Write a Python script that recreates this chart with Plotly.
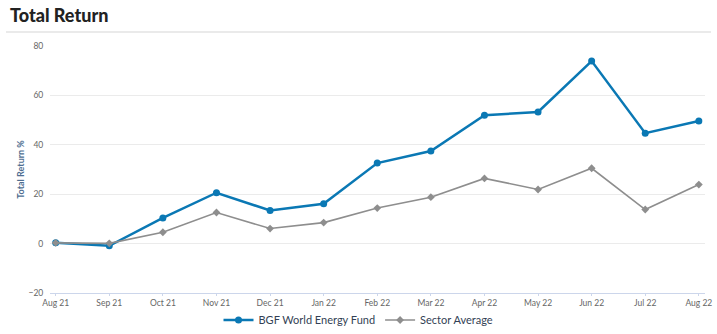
import plotly.graph_objects as go

months = ["Aug 21", "Sep 21", "Oct 21", "Nov 21", "Dec 21", "Jan 22", "Feb 22",
          "Mar 22", "Apr 22", "May 22", "Jun 22", "Jul 22", "Aug 22"]
fund = [0.3, -0.9, 10.4, 20.6, 13.4, 16.1, 32.6, 37.5, 52.0, 53.3, 73.9, 44.7, 49.6]
sector = [0.3, 0.1, 4.6, 12.6, 6.1, 8.5, 14.4, 18.8, 26.4, 21.9, 30.5, 13.8, 23.9]
y_ticks = [-20, 0, 20, 40, 60, 80]

FONT = "Lato"
W, H = 717, 334
L, R, T, B = 50, 12, 46, 41

fig = go.Figure()
fig.add_trace(go.Scatter(
    x=months, y=fund, name="BGF World Energy Fund", mode="lines+markers",
    line=dict(color="#0a78b4", width=2.5),
    marker=dict(symbol="circle", size=7, color="#0a78b4"),
))
fig.add_trace(go.Scatter(
    x=months, y=sector, name="Sector Average", mode="lines+markers",
    line=dict(color="#8e8e8e", width=1.6),
    marker=dict(symbol="diamond", size=6, color="#8e8e8e"),
))

pw = W - L - R
ph = H - T - B
fig.add_shape(type="line", xref="paper", yref="paper",
              x0=(6 - L) / pw, x1=(711 - L) / pw,
              y0=(H - B - 32) / ph, y1=(H - B - 32) / ph,
              line=dict(color="#e3e3e3", width=1.5))

fig.update_layout(
    width=W, height=H,
    margin=dict(l=L, r=R, t=T, b=B, autoexpand=False),
    paper_bgcolor="white", plot_bgcolor="white",
    font=dict(family=FONT, size=8, color="#666666"),
    title=dict(text="Total Return", x=10 / W, xanchor="left", xref="container",
               y=1 - 16 / H, yanchor="middle", yref="container",
               font=dict(family=FONT, size=18, color="#222222", weight=900)),
    showlegend=True,
    legend=dict(orientation="h", xref="container", x=0.5, xanchor="center",
                yref="container", y=(H - 320) / H, yanchor="middle",
                bgcolor="rgba(0,0,0,0)",
                font=dict(family=FONT, size=11, color="#333f55"),
                itemwidth=30, tracegroupgap=0),
    xaxis=dict(type="category", range=[-0.106, 12.115], showgrid=False,
               showline=True, linecolor="#ccd6eb", linewidth=1,
               ticks="outside", ticklen=2, tickcolor="#ccd6eb",
               tickfont=dict(family=FONT, size=8.5, color="#666666"), fixedrange=True),
    yaxis=dict(range=[-20, 80], tickvals=y_ticks, showgrid=True, gridcolor="#ebebeb",
               gridwidth=1, zeroline=False, showline=False,
               ticks="outside", ticklen=4, tickcolor="rgba(0,0,0,0)",
               tickfont=dict(family=FONT, size=8.5, color="#666666"),
               title=dict(text="<b>Total Return %</b>", standoff=2,
                          font=dict(family=FONT, size=9, color="#4f6e91"))),
)

fig.write_html("out.html")
